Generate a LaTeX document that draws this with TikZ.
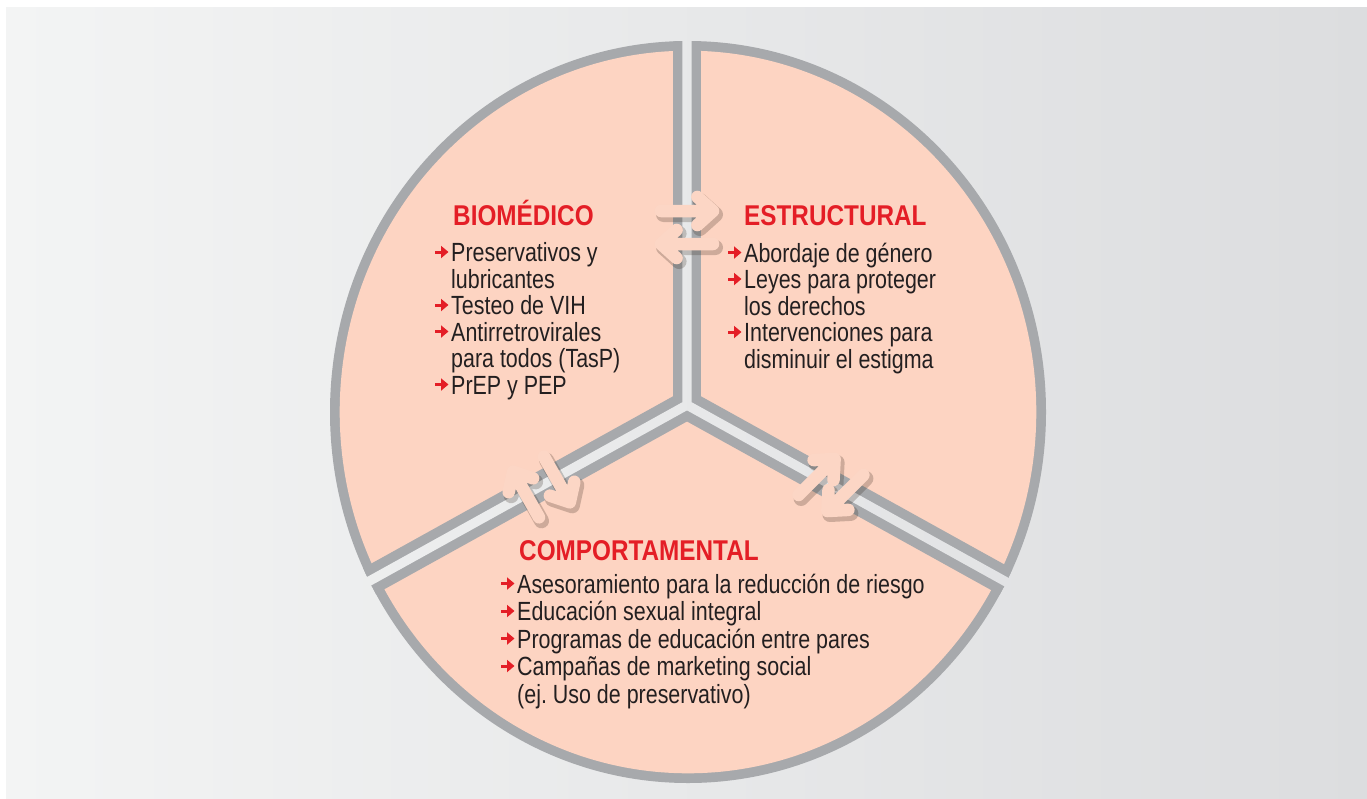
\documentclass[tikz,border=0pt]{standalone}
\usepackage{fontspec}
\usetikzlibrary{calc,arrows.meta}
\newfontfamily\bodyfont[FakeStretch=0.815]{Liberation Sans}
\newfontfamily\headfont[FakeStretch=0.85]{Liberation Sans}
\definecolor{bgL}{HTML}{F3F4F4}
\definecolor{bgR}{HTML}{DCDDDF}
\definecolor{ringgray}{HTML}{A7A9AC}
\definecolor{peach}{HTML}{FDD4C2}
\definecolor{arrpeach}{HTML}{FCD6C5}
\definecolor{headred}{HTML}{E41E26}
\definecolor{txt}{HTML}{231F20}
\tikzset{
  headtxt/.style={anchor=base west, inner sep=0pt, font=\headfont\bfseries\fontsize{28.6}{28}\selectfont, text=headred},
  itemtxt/.style={anchor=base west, inner sep=0pt, font=\bodyfont\fontsize{26.3}{27}\selectfont, text=txt},
  bularrow/.style={draw=headred, line width=3pt, -{Triangle[length=7.5pt,width=12pt]}},
  xarrow/.style={draw=arrpeach, line width=12.5pt, line cap=round, line join=round},
  xshadow/.style={draw=black!80!brown, opacity=0.22, line width=15pt, line cap=round, line join=round},
}
\newcommand\bulat[1]{\draw[bularrow] ($(#1.base west)+(-16,-9.5)$) -- ($(#1.base west)+(-2.5,-9.5)$);}
\newcommand\xarr[2]{%
  \draw[xshadow, transform canvas={shift={(2.5,3.5)}}] (#1) -- (#2) ($(#2)!21pt!42:(#1)$) -- (#2) -- ($(#2)!21pt!-42:(#1)$);
  \draw[xarrow] (#1) -- (#2) ($(#2)!21pt!42:(#1)$) -- (#2) -- ($(#2)!21pt!-42:(#1)$);}
\begin{document}
\begin{tikzpicture}[x=1pt,y=-1pt]
\useasboundingbox (0,0) rectangle (1367,798);
\fill[white] (0,0) rectangle (1367,798);
\shade[left color=bgL,right color=bgR] (6,7) rectangle (1367,798);
% disc
\coordinate (C) at (688,412);
\coordinate (J) at (687,405);
\fill[ringgray] (C) ellipse [x radius=358, y radius=371];
\fill[peach] (C) ellipse [x radius=348.3, y radius=361.3];
\begin{scope}
  \clip (C) ellipse [x radius=358, y radius=371];
  \draw[ringgray, line width=28.8pt] (J) -- ++(270:500);
  \draw[ringgray, line width=28.8pt] (J) -- ++(151:500);
  \draw[ringgray, line width=28.8pt] (J) -- ++(29:500);
\end{scope}
% gaps
\begin{scope}
  \clip ($(J)+(0:4.7)$) -- ++(270:700) -- ++(180:9.4) -- ++(90:700) -- cycle
        ($(J)+(241:4.7)$) -- ++(151:700) -- ++(61:9.4) -- ++(331:700) -- cycle
        ($(J)+(119:4.7)$) -- ++(29:700) -- ++(299:9.4) -- ++(209:700) -- cycle;
  \shade[left color=bgL,right color=bgR] (6,7) rectangle (1367,798);
\end{scope}
% exchange arrows
\coordinate (ta1) at (661,211);   \coordinate (tb1) at (713,211);
\coordinate (ta2) at (713,244);   \coordinate (tb2) at (661,244);
\coordinate (la1) at (539.0,517.3); \coordinate (lb1) at (513.2,471.7);
\coordinate (la2) at (544.0,456.7); \coordinate (lb2) at (569.8,502.3);
\coordinate (ra1) at (798.6,495.0); \coordinate (rb1) at (834.6,459.0);
\coordinate (ra2) at (863.4,475.0); \coordinate (rb2) at (827.4,511.0);
\xarr{ta1}{tb1}
\xarr{ta2}{tb2}
\xarr{la1}{lb1}
\xarr{la2}{lb2}
\xarr{ra1}{rb1}
\xarr{ra2}{rb2}
% BIOMEDICO
\node[headtxt] (bioH) at (453,225) {BIOMÉDICO};
\node[itemtxt] (b1) at (451,261.5) {Preservativos y};
\node[itemtxt] (b2) at (451,288) {lubricantes};
\node[itemtxt] (b3) at (451,314.5) {Testeo de VIH};
\node[itemtxt] (b4) at (451,341) {Antirretrovirales};
\node[itemtxt] (b5) at (451,367.5) {para todos (TasP)};
\node[itemtxt] (b6) at (451,394) {PrEP y PEP};
\bulat{b1}\bulat{b3}\bulat{b4}\bulat{b6}
% ESTRUCTURAL
\node[headtxt] (estH) at (744,225) {ESTRUCTURAL};
\node[itemtxt] (e1) at (744,262) {Abordaje de género};
\node[itemtxt] (e2) at (744,288.5) {Leyes para proteger};
\node[itemtxt] (e3) at (744,315) {los derechos};
\node[itemtxt] (e4) at (744,341.5) {Intervenciones para};
\node[itemtxt] (e5) at (744,368) {disminuir el estigma};
\bulat{e1}\bulat{e2}\bulat{e4}
% COMPORTAMENTAL
\node[headtxt] (comH) at (519,560) {COMPORTAMENTAL};
\node[itemtxt] (c1) at (517,593) {Asesoramiento para la reducción de riesgo};
\node[itemtxt] (c2) at (517,620.5) {Educación sexual integral};
\node[itemtxt] (c3) at (517,648) {Programas de educación entre pares};
\node[itemtxt] (c4) at (517,675.5) {Campañas de marketing social};
\node[itemtxt] (c5) at (517,703) {(ej.\ Uso de preservativo)};
\bulat{c1}\bulat{c2}\bulat{c3}\bulat{c4}
\end{tikzpicture}
\end{document}
